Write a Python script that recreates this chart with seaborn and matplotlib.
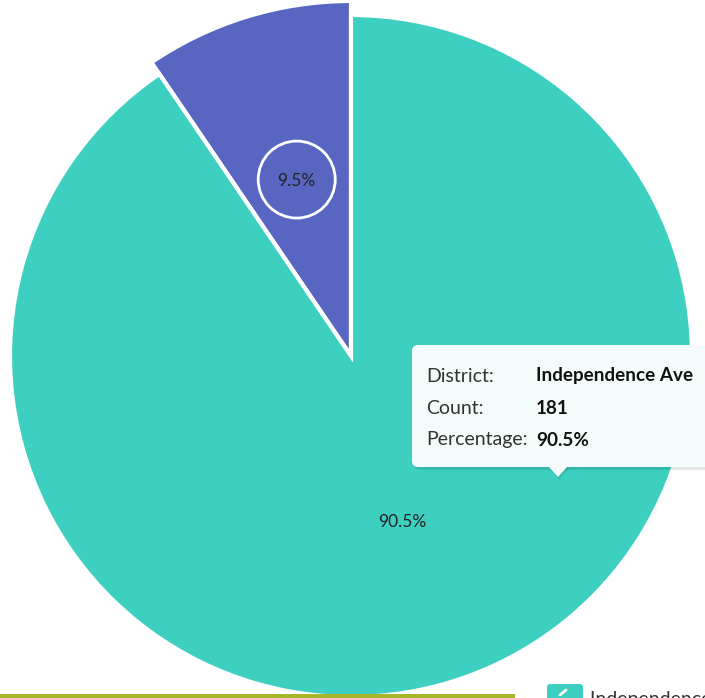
import matplotlib
matplotlib.use("Agg")
import matplotlib.pyplot as plt
from matplotlib.patches import FancyBboxPatch, Circle, Polygon, Rectangle
import numpy as np
import seaborn as sns

# District counts (pie drawn counter-clockwise from 12 o'clock)
districts = ["Other", "Independence Ave"]
counts = [19, 181]
colours = ["#5866C2", "#3DD0C1"]

sns.set_theme(style="white")
plt.rcParams["font.family"] = ["Lato", "DejaVu Sans"]

W, H = 705, 698
fig = plt.figure(figsize=(W / 100, H / 100), dpi=100)
ax = fig.add_axes([0, 0, 1, 1])

cx, cy, r = 351, H - 356, 341
wedges, texts, autotexts = ax.pie(
    counts, colors=colours, startangle=90, counterclock=True,
    center=(cx, cy), radius=r, autopct="%.1f%%", pctdistance=0.51,
    wedgeprops=dict(edgecolor="white", linewidth=3),
    textprops=dict(fontsize=12.5, color="#222222"),
)
ax.set_xlim(0, W)
ax.set_ylim(0, H)
ax.axis("off")

# hovered slice is drawn larger
big_r = 355
wedges[0].set_radius(big_r)
mid = np.deg2rad((wedges[0].theta1 + wedges[0].theta2) / 2)
lx, ly = cx + 0.52 * big_r * np.cos(mid), cy + 0.52 * big_r * np.sin(mid)
autotexts[0].set_position((lx, ly - 1))
ax.add_patch(Circle((lx, ly), 38.5, fill=False, edgecolor="white", lw=2, zorder=5))

# tooltip for the big slice
i = 1
pct = 100 * counts[i] / sum(counts)
bx, by, bw, bh = 412, H - 467, 340, 122
ax.add_patch(FancyBboxPatch((bx + 2, by - 3), bw, bh, boxstyle="round,pad=0,rounding_size=6",
                            facecolor="black", alpha=0.10, edgecolor="none", zorder=6))
ax.add_patch(Polygon([(549, by - 1), (569, by - 1), (559, by - 13)], closed=True,
                     facecolor="black", alpha=0.10, edgecolor="none", zorder=6))
ax.add_patch(FancyBboxPatch((bx, by), bw, bh, boxstyle="round,pad=0,rounding_size=6",
                            facecolor="#F3FCFB", edgecolor="none", zorder=7))
ax.add_patch(Polygon([(548, by + 1), (568, by + 1), (558, by - 10)], closed=True,
                     facecolor="#F3FCFB", edgecolor="none", zorder=7))
rows = [("District:", districts[i]), ("Count:", f"{counts[i]}"), ("Percentage:", f"{pct:.1f}%")]
for k, (lab, val) in enumerate(rows):
    yy = H - 376 - 32 * k
    ax.text(426, yy, lab, fontsize=14, color="#333333", va="center", ha="left", zorder=8)
    ax.text(536, yy, val, fontsize=13.6, color="#111111", fontweight="bold",
            va="center", ha="left", zorder=8)

# bottom bar and legend (cut off by the frame)
ax.add_patch(Rectangle((0, 0), 515, 4, facecolor="#A8B62A", edgecolor="none", zorder=3))
ax.add_patch(FancyBboxPatch((547, -10), 36, 24, boxstyle="round,pad=0,rounding_size=3",
                            facecolor=colours[1], edgecolor="none", zorder=3))
ax.plot([560, 566], [3, 8], color="white", lw=2, zorder=4)
ax.text(590, H - 691, districts[1], fontsize=14, color="#333333", va="top", ha="left")

fig.savefig("out.png", dpi=100)
